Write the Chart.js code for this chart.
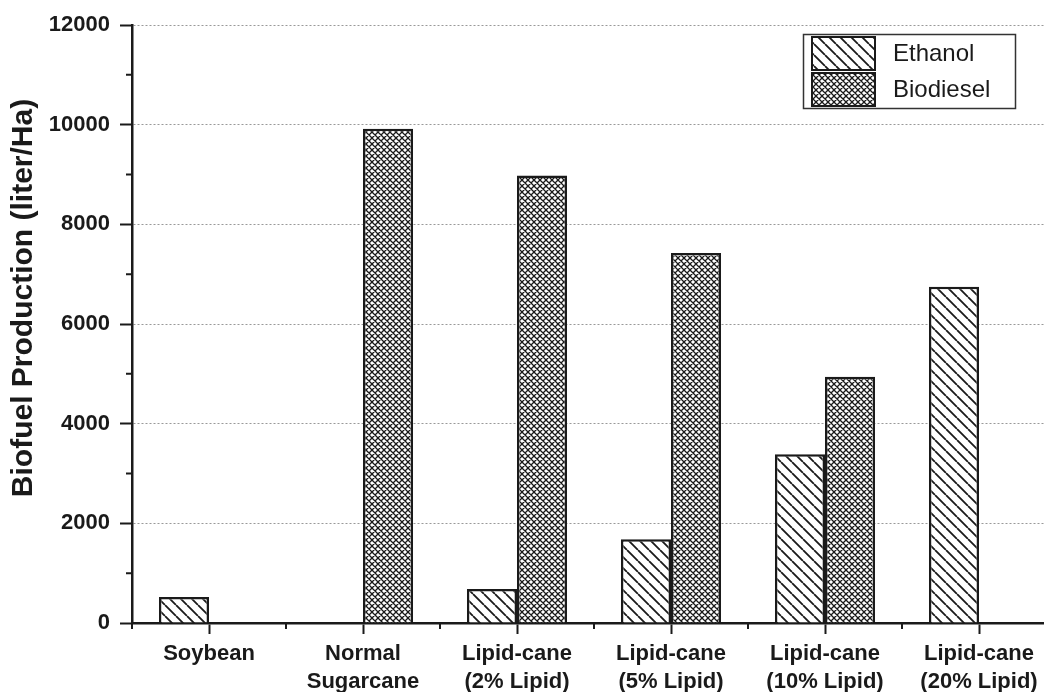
<!DOCTYPE html>
<html>
<head>
<meta charset="utf-8">
<script src="https://cdn.jsdelivr.net/npm/chart.js@4.4.1/dist/chart.umd.min.js"></script>
<style>
html, body { margin: 0; padding: 0; background: #fff; overflow: hidden; }
#wrap { width: 1044px; height: 692px; overflow: hidden; }
canvas { display: block; }
</style>
</head>
<body>
<div id="wrap"><canvas id="biofuelChart" width="1060" height="692"></canvas></div>
<script>
// data
var categories = [
    ['Soybean'],
    ['Normal', 'Sugarcane'],
    ['Lipid-cane', '(2% Lipid)'],
    ['Lipid-cane', '(5% Lipid)'],
    ['Lipid-cane', '(10% Lipid)'],
    ['Lipid-cane', '(20% Lipid)']
];
var ethanolValues   = [520, null, 680, 1680, 3385, 6750];
var biodieselValues = [null, 9920, 8980, 7425, 4940, null];
var seriesNames = ['Ethanol', 'Biodiesel'];
var yMax = 12000;
var yLabelStep = 2000;
var yMinorStep = 1000;
var axisTitle = 'Biofuel Production (liter/Ha)';

var ink = '#1a1a1a';
var fontFamily = "'Liberation Sans', Arial, Helvetica, sans-serif";
Chart.defaults.font.family = fontFamily;
Chart.defaults.color = ink;

// hatch patterns
function makePattern(size, draw) {
    var c = document.createElement('canvas');
    c.width = size; c.height = size;
    var g = c.getContext('2d');
    g.fillStyle = '#fff';
    g.fillRect(0, 0, size, size);
    g.strokeStyle = ink;
    draw(g, size);
    return g.createPattern(c, 'repeat');
}
var diagPattern = makePattern(11, function (g, s) {
    g.lineWidth = 1.8;
    g.beginPath();
    [-s, 0, s].forEach(function (k) { g.moveTo(k, 0); g.lineTo(k + s, s); });
    g.stroke();
});
var crossPattern = makePattern(6, function (g, s) {
    g.lineWidth = 1.3;
    g.beginPath();
    [-s, 0, s].forEach(function (k) {
        g.moveTo(k, 0); g.lineTo(k + s, s);
        g.moveTo(k + s, 0); g.lineTo(k, s);
    });
    g.stroke();
});

// minor ticks, rotated axis title and the boxed legend
var extrasPlugin = {
    id: 'extras',
    afterDraw: function (chart) {
        var ctx = chart.ctx, xs = chart.scales.x, ys = chart.scales.y;
        ctx.save();
        ctx.strokeStyle = ink;
        ctx.lineWidth = 2;
        ctx.beginPath();
        for (var v = yMinorStep; v < yMax; v += yLabelStep) {
            var py = ys.getPixelForValue(v);
            ctx.moveTo(xs.left - 6, py); ctx.lineTo(xs.left, py);
        }
        var n = categories.length, w = (xs.right - xs.left) / n;
        for (var i = 0; i <= n; i++) {
            var px = xs.left + i * w;
            ctx.moveTo(px, ys.bottom); ctx.lineTo(px, ys.bottom + 6);
        }
        ctx.stroke();

        // y title
        ctx.save();
        ctx.translate(24, 298);
        ctx.rotate(-Math.PI / 2);
        ctx.font = 'bold 30px ' + fontFamily;
        ctx.fillStyle = ink;
        ctx.textAlign = 'center';
        ctx.textBaseline = 'middle';
        ctx.fillText(axisTitle, 0, 0);
        ctx.restore();

        // legend
        ctx.lineWidth = 1.5;
        ctx.strokeStyle = '#333';
        ctx.strokeRect(803.5, 34.5, 212, 74);
        chart.data.datasets.forEach(function (ds, k) {
            var top = 37 + k * 36;
            ctx.fillStyle = ds.backgroundColor;
            ctx.fillRect(812, top, 63, 33);
            ctx.strokeStyle = ink;
            ctx.lineWidth = 2;
            ctx.strokeRect(812, top, 63, 33);
            ctx.fillStyle = ink;
            ctx.font = '24px ' + fontFamily;
            ctx.textAlign = 'left';
            ctx.textBaseline = 'middle';
            ctx.fillText(ds.label, 893, top + 17);
        });
        ctx.restore();
    }
};

var ctx = document.getElementById('biofuelChart').getContext('2d');
var biofuelChart = new Chart(ctx, {
    type: 'bar',
    data: {
        labels: categories,
        datasets: [{
            label: seriesNames[0],
            data: ethanolValues,
            backgroundColor: diagPattern,
            borderColor: ink,
            borderWidth: 2.5
        }, {
            label: seriesNames[1],
            data: biodieselValues,
            backgroundColor: crossPattern,
            borderColor: ink,
            borderWidth: 2.5
        }]
    },
    options: {
        responsive: false,
        animation: false,
        devicePixelRatio: 1,
        layout: { padding: { left: 0, top: 25, right: 4, bottom: 0 } },
        datasets: { bar: { barPercentage: 1, categoryPercentage: 0.65 } },
        plugins: { legend: { display: false }, tooltip: { enabled: false } },
        scales: {
            x: {
                offset: true,
                grid: {
                    offset: false,
                    drawOnChartArea: false,
                    tickLength: 11,
                    tickWidth: 2,
                    tickColor: ink
                },
                border: { color: ink, width: 2.5 },
                ticks: {
                    autoSkip: false,
                    maxRotation: 0,
                    padding: 6,
                    color: ink,
                    font: { size: 22, weight: 'bold', lineHeight: 1.27 }
                },
                afterFit: function (s) { s.height = 69; }
            },
            y: {
                min: 0,
                max: yMax,
                grid: {
                    color: function (c) {
                        var v = c.tick.value;
                        return (v % yLabelStep === 0 && v !== 0) ? '#999' : 'transparent';
                    },
                    lineWidth: 1,
                    tickLength: 12,
                    tickWidth: 2,
                    tickColor: function (c) {
                        return c.tick.value % yLabelStep === 0 ? ink : 'transparent';
                    }
                },
                border: { color: ink, width: 2.5, dash: [2, 2] },
                ticks: {
                    stepSize: yMinorStep,
                    padding: 10,
                    color: ink,
                    font: { size: 22, weight: 'bold' },
                    callback: function (v) { return v % yLabelStep === 0 ? v : ''; }
                },
                afterFit: function (s) { s.width = 132; }
            }
        }
    },
    plugins: [extrasPlugin]
});
</script>
</body>
</html>
